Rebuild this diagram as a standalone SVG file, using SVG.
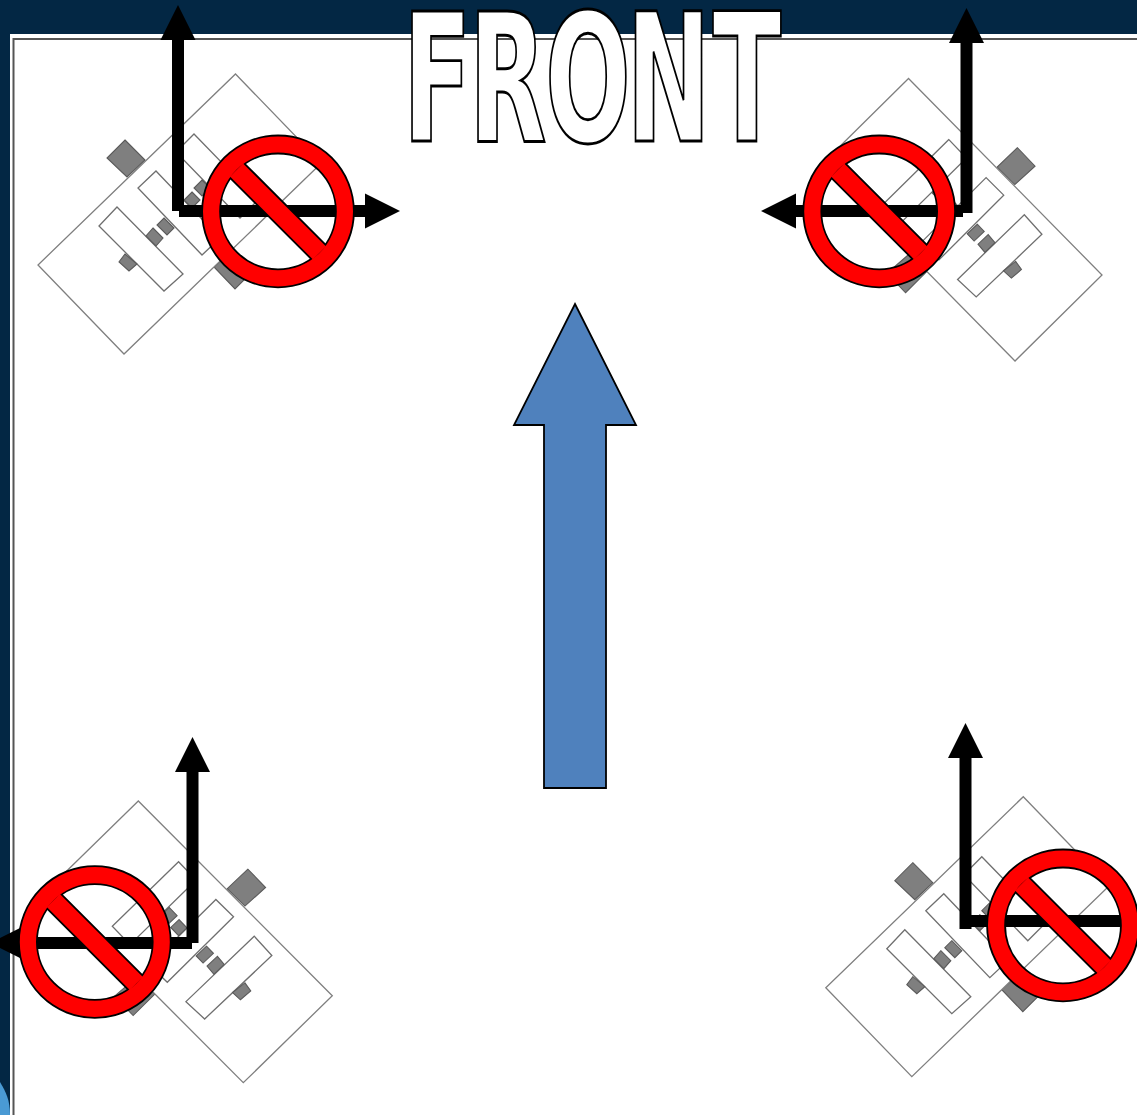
<svg xmlns="http://www.w3.org/2000/svg" width="1137" height="1115" viewBox="0 0 1137 1115">
<style>
.body{fill:#fff;stroke:#7f7f7f;stroke-width:1.3}
.part{fill:#fff;stroke:#6f6f6f;stroke-width:1.3}
.wheel{fill:#7f7f7f;stroke:#5a5a5a;stroke-width:1.1}
.axis{fill:none;stroke:#000;stroke-width:12}
.edge{fill:#000;stroke:#000;stroke-width:3.600;fill-rule:evenodd}
.red{fill:#f00;fill-rule:evenodd}
</style>
<defs>
<marker id="head" markerUnits="userSpaceOnUse" markerWidth="36" markerHeight="36" refX="0" refY="18" orient="auto" viewBox="0 0 36 36"><path d="M0,0.5 L35,18 L0,35.5z" fill="#000"/></marker>
<path id="ring" d="M-75,0a75,75 0 1,0 150,0a75,75 0 1,0 -150,0zM-58.800,0a58.800,58.800 0 1,0 117.600,0a58.800,58.800 0 1,0 -117.600,0z"/>
<polygon id="bar" points="-35,-48 48,35 35,48 -48,-35"/>
<g id="robot">
<polygon class="wheel" points="125,140 145,160 127,177 107,158"/>
<polygon class="wheel" points="214,267 232,250 254,270 235,289"/>
<polygon class="body" points="235.500,74 321.500,163 124,354 38,265"/>
<polygon class="part" points="194,134 258,200 240,218 176,152"/>
<polygon class="part" points="156,171 220,238 202,255 138,188"/>
<polygon class="part" points="117,207 183,274 164,291 99,226"/>
<polygon class="wheel" points="125,254 137,264 129,271 119,262"/>
<polygon class="wheel" points="153,228 163,238 156,246 146,236"/>
<polygon class="wheel" points="164,218 174,228 167,235 157,225"/>
<polygon class="wheel" points="192,192 200,200 192,208 184,200"/>
<polygon class="wheel" points="202,180 210,188 202,196 194,188"/>
</g>
<g id="no">
<use href="#ring" class="edge"/>
<use href="#bar" class="edge"/>
<use href="#ring" class="red"/>
<use href="#bar" class="red"/>
</g>
</defs>
<rect id="background" width="1137" height="1115" fill="#032744"/>
<path d="M0,1082 C6,1092 10,1100 10,1115 L0,1115z" fill="#4a9ad4"/>
<rect x="10" y="34" width="1127" height="1081" fill="#fff"/>
<path d="M1137,39 H13.500 V1115" fill="none" stroke="#555" stroke-width="2"/>
<g id="robot-top-left"><use href="#robot"/></g>
<g id="robot-top-right"><use href="#robot" transform="matrix(-0.99515 -0.03125 -0.01592 0.99648 1144.04 12.12)"/></g>
<g id="robot-bottom-left"><use href="#robot" transform="matrix(-1.00769 -0.02092 -0.02628 0.99774 377.55 732.1)"/></g>
<g id="robot-bottom-right"><use href="#robot" transform="translate(787.8 722.7)"/></g>
<g id="front-label"><text transform="translate(0 140.500) scale(1.01 1.78)" x="398.700 464 539.600 620 705.400" y="0" font-family="'DejaVu Sans',sans-serif" font-weight="700" font-size="100" fill="#fff" stroke="#000" stroke-width="2.400" vector-effect="non-scaling-stroke">FRONT</text></g>
<g id="connectors">
<path class="axis" d="M178,211 V40" marker-end="url(#head)"/>
<path class="axis" d="M179,211 H365" marker-end="url(#head)"/>
<path class="axis" d="M966.500,213 V43" marker-end="url(#head)"/>
<path class="axis" d="M963,211 H796" marker-end="url(#head)"/>
<path class="axis" d="M192.500,943 V772" marker-end="url(#head)"/>
<path class="axis" d="M192,943 H25" marker-end="url(#head)"/>
<path class="axis" d="M965.500,929 V758" marker-end="url(#head)"/>
<path class="axis" d="M965,921 H1137"/>
</g>
<g id="forward-arrow"><polygon points="575,304 636,425 606,425 606,788 544,788 544,425 514,425" fill="#4f81bd" stroke="#000" stroke-width="1.8"/></g>
<g id="no-top-left"><use href="#no" x="278" y="211.400"/></g>
<g id="no-top-right"><use href="#no" x="879.200" y="211.400"/></g>
<g id="no-bottom-left"><use href="#no" x="94.800" y="942"/></g>
<g id="no-bottom-right"><use href="#no" x="1063" y="925.400"/></g>
</svg>
